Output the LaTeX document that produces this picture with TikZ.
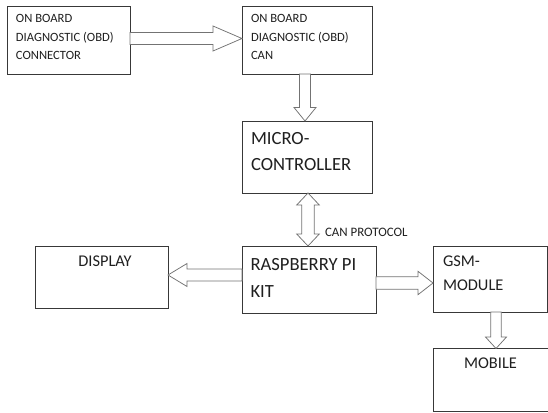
\documentclass[tikz,border=0pt]{standalone}
\usepackage{fontspec}
\setmainfont{Carlito}
\usetikzlibrary{calc}
\tikzset{
  box/.style={draw=black!78,line width=0.9pt,inner sep=0pt,outer sep=0pt,rectangle},
  blk/.style={draw=black!55,line width=0.75pt,fill=white,line join=miter},
  lbl/.style={inner sep=0pt,outer sep=0pt,anchor=base west,text=black!88},
  clbl/.style={inner sep=0pt,outer sep=0pt,anchor=base,text=black!88},
  fs/.style={font=\fontsize{12.6}{14}\selectfont},
  fm/.style={font=\fontsize{16.4}{18}\selectfont},
  fb/.style={font=\fontsize{18.6}{20}\selectfont}
}
\begin{document}
\begin{tikzpicture}[x=1pt,y=-1pt]
\useasboundingbox (0,0) rectangle (548,412);
% boxes
\node[box,minimum width=123pt,minimum height=68pt] (obd) at (68.5,40) {};
\node[box,minimum width=130pt,minimum height=68pt] (can) at (307,40) {};
\node[box,minimum width=130pt,minimum height=72pt] (mcu) at (307,157) {};
\node[box,minimum width=133pt,minimum height=62pt] (disp) at (101.5,277) {};
\node[box,minimum width=134pt,minimum height=67pt] (rpi) at (309,279.5) {};
\node[box,minimum width=114pt,minimum height=66pt] (gsm) at (490,279) {};
\node[box,minimum width=117pt,minimum height=62.5pt] (mob) at (491.5,379.75) {};
% texts
\node[lbl,fs] (t1a) at (16,23) {ON BOARD};
\node[lbl,fs] (t1b) at (16,41.5) {DIAGNOSTIC (OBD)};
\node[lbl,fs] (t1c) at (16,59.5) {CONNECTOR};
\node[lbl,fs] (t2a) at (251,23) {ON BOARD};
\node[lbl,fs] (t2b) at (251,41.5) {DIAGNOSTIC (OBD)};
\node[lbl,fs] (t2c) at (251,59.5) {CAN};
\node[lbl,fb] (t3a) at (251,144) {MICRO-};
\node[lbl,fb] (t3b) at (251,170.7) {CONTROLLER};
\node[lbl,fb] (t4a) at (250.5,270) {RASPBERRY PI};
\node[lbl,fb] (t4b) at (250.5,297.5) {KIT};
\node[lbl,fm] (t5a) at (443,266.7) {GSM-};
\node[lbl,fm] (t5b) at (443,290.7) {MODULE};
\node[clbl,fm] (t6) at (105,266.5) {DISPLAY};
\node[clbl,fm] (t7) at (490.5,368.3) {MOBILE};
\node[lbl,font=\fontsize{12.9}{14}\selectfont] (t8) at (325,236.7) {CAN PROTOCOL};
% arrow 1: obd -> can
\coordinate (a1s) at ($(obd.east)+(0,-1.5)$);
\coordinate (a1e) at ($(can.west)+(0,-1.5)$);
\draw[blk] ($(a1s)+(0,-6)$) -- ($(a1e)+(-29,-6)$) -- ($(a1e)+(-29,-12.5)$) -- (a1e)
  -- ($(a1e)+(-29,12.5)$) -- ($(a1e)+(-29,6)$) -- ($(a1s)+(0,6)$) -- cycle;
% arrow 2: can -> mcu
\coordinate (a2s) at ($(can.south)+(-2,0)$);
\coordinate (a2e) at ($(mcu.north)+(-2,0)$);
\draw[blk] ($(a2s)+(-5.5,0)$) -- ($(a2e)+(-5.5,-13.5)$) -- ($(a2e)+(-11,-13.5)$) -- (a2e)
  -- ($(a2e)+(11,-13.5)$) -- ($(a2e)+(5.5,-13.5)$) -- ($(a2s)+(5.5,0)$) -- cycle;
% arrow 3: mcu <-> rpi
\coordinate (a3s) at ($(mcu.south)+(1,0)$);
\coordinate (a3e) at (a3s |- rpi.north);
\draw[blk] (a3s) -- ($(a3s)+(11.3,12)$) -- ($(a3s)+(6.3,12)$) -- ($(a3e)+(6.3,-12)$)
  -- ($(a3e)+(11.3,-12)$) -- (a3e) -- ($(a3e)+(-11.3,-12)$) -- ($(a3e)+(-6.3,-12)$)
  -- ($(a3s)+(-6.3,12)$) -- ($(a3s)+(-11.3,12)$) -- cycle;
% arrow 4: rpi -> disp
\coordinate (a4s) at ($(rpi.west)+(0,-4.5)$);
\coordinate (a4e) at (disp.east |- a4s);
\draw[blk] ($(a4s)+(0,-6)$) -- ($(a4e)+(19,-6)$) -- ($(a4e)+(19,-11.5)$) -- (a4e)
  -- ($(a4e)+(19,11.5)$) -- ($(a4e)+(19,6)$) -- ($(a4s)+(0,6)$) -- cycle;
% arrow 5: rpi -> gsm
\coordinate (a5s) at ($(rpi.east)+(0,3.5)$);
\coordinate (a5e) at (gsm.west |- a5s);
\draw[blk] ($(a5s)+(0,-6.3)$) -- ($(a5e)+(-15,-6.3)$) -- ($(a5e)+(-15,-11.7)$) -- (a5e)
  -- ($(a5e)+(-15,11.7)$) -- ($(a5e)+(-15,6.3)$) -- ($(a5s)+(0,6.3)$) -- cycle;
% arrow 6: gsm -> mob
\coordinate (a6s) at ($(gsm.south)+(6,0)$);
\coordinate (a6e) at (a6s |- mob.north);
\draw[blk] ($(a6s)+(-5.3,0)$) -- ($(a6e)+(-5.3,-11.5)$) -- ($(a6e)+(-10.5,-11.5)$) -- (a6e)
  -- ($(a6e)+(10.5,-11.5)$) -- ($(a6e)+(5.3,-11.5)$) -- ($(a6s)+(5.3,0)$) -- cycle;
\end{tikzpicture}
\end{document}
